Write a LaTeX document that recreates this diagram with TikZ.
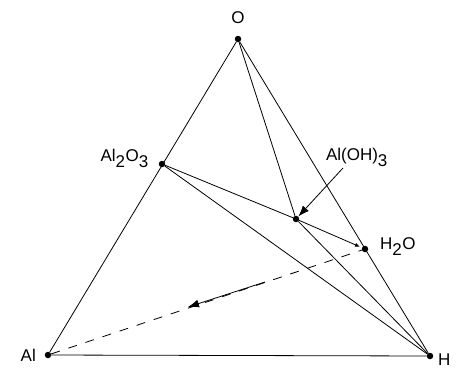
\documentclass[tikz,border=0pt]{standalone}
\usepackage{fontspec}
\setmainfont{Liberation Sans}
\usetikzlibrary{arrows.meta}
\newcommand{\sbs}[1]{$_{\mbox{\fontsize{17}{20}\selectfont #1}}$}
\begin{document}
\begin{tikzpicture}[x=1pt,y=-1pt,
  dotnode/.style={circle,fill=black,inner sep=0pt,minimum size=6.5pt},
  lbl/.style={font=\fontsize{17}{20}\selectfont,inner sep=1pt},
  edge/.style={line width=0.8pt},
  bigarrow/.style={line width=0.8pt,-{Latex[length=11pt,width=8pt]}},
  smallarrow/.style={line width=0.8pt,-{Latex[length=5pt,width=4pt]}}]
\useasboundingbox (0,0) rectangle (456,368);
\node[dotnode] (O) at (238,39) {};
\node[dotnode] (Al) at (48,355) {};
\node[dotnode] (H) at (430,356) {};
\node[dotnode] (A2) at (162,164) {};
\node[dotnode] (AO) at (296,219) {};
\node[dotnode] (W) at (365,249) {};
\coordinate (a1) at (265,282);
\coordinate (a2) at (188,307);
\coordinate (b1) at (343,168);
\node[lbl] at (238,18) {O};
\node[lbl,anchor=east] at (150,158) {Al\sbs{2}O\sbs{3}};
\node[lbl] at (357,157) {Al(OH)\sbs{3}};
\node[lbl,anchor=west] at (379,247) {H\sbs{2}O};
\node[lbl,anchor=east] at (37,355) {Al};
\node[lbl,anchor=west] at (437,360) {H};
\draw[edge] (O) -- (Al) -- (H) -- (O);
\draw[edge] (O) -- (AO) -- (H);
\draw[edge] (A2) -- (H);
\draw[edge] (A2) -- (AO);
\draw[smallarrow,shorten >=2pt] (AO) -- (W);
\draw[edge,dashed,dash pattern=on 9pt off 9pt] (Al) -- (W);
\draw[bigarrow] (a1) -- (a2);
\draw[bigarrow] (b1) -- (AO);
\end{tikzpicture}
\end{document}
